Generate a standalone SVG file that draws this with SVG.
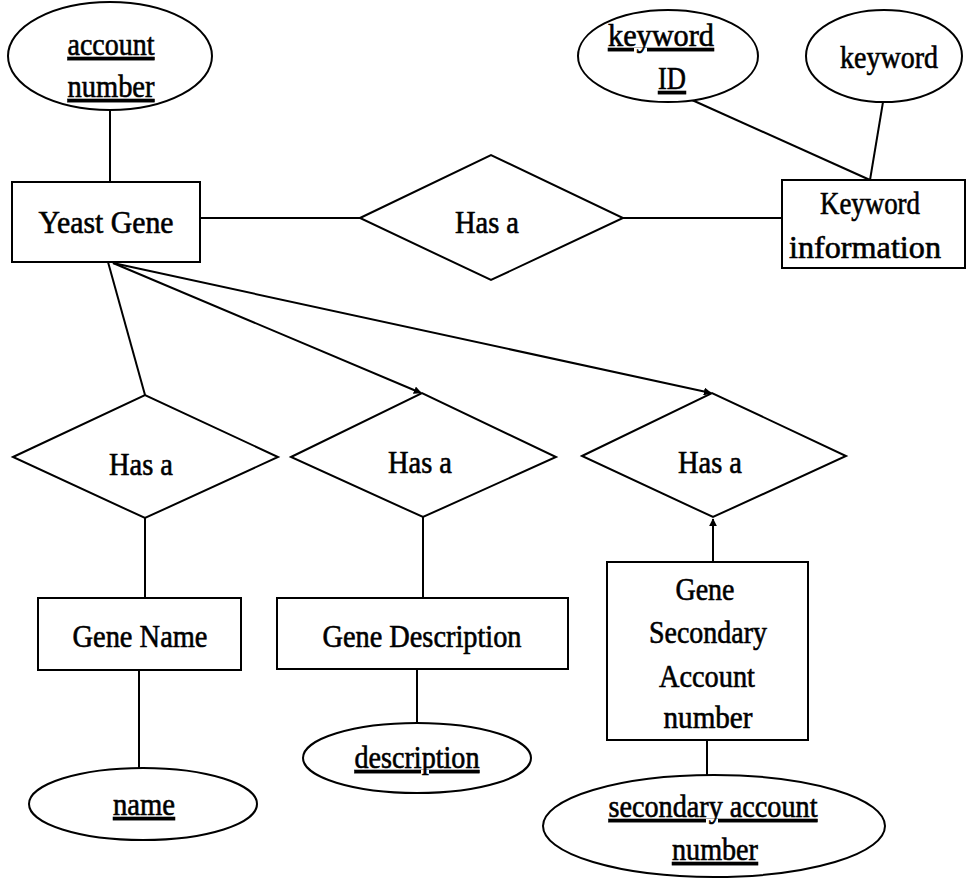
<svg xmlns="http://www.w3.org/2000/svg" width="969" height="879" viewBox="0 0 969 879">
<style>
.shape{fill:#fff;stroke:#000;stroke-width:2}
.ln{fill:none;stroke:#000;stroke-width:2}
text{font-family:"Liberation Serif","Times New Roman",serif;font-size:31px;fill:#000;text-anchor:middle;stroke:#000;stroke-width:0.6}
.u{text-decoration:underline}
</style>
<defs>
<marker id="arr" viewBox="0 0 10 10" refX="9" refY="5" markerWidth="4" markerHeight="4" orient="auto" markerUnits="strokeWidth">
<path d="M0,0 L10,5 L0,10 z" fill="#000"/>
</marker>
</defs>
<rect width="969" height="879" fill="#fff"/>
<g id="connectors">
<line class="ln" x1="110" y1="110" x2="110" y2="182"/>
<line class="ln" x1="200" y1="218" x2="360" y2="218"/>
<line class="ln" x1="623" y1="218" x2="782" y2="218"/>
<line class="ln" x1="692" y1="100" x2="870" y2="180"/>
<line class="ln" x1="883" y1="102" x2="870" y2="180"/>
<line class="ln" x1="108" y1="262" x2="145" y2="395"/>
<line class="ln" x1="113" y1="263" x2="421" y2="393" marker-end="url(#arr)"/>
<line class="ln" x1="113" y1="263" x2="711" y2="393" marker-end="url(#arr)"/>
<line class="ln" x1="145" y1="518" x2="145" y2="598"/>
<line class="ln" x1="139" y1="670" x2="139" y2="768"/>
<line class="ln" x1="423" y1="517" x2="423" y2="598"/>
<line class="ln" x1="417" y1="669" x2="417" y2="723"/>
<line class="ln" x1="713" y1="562" x2="713" y2="519" marker-end="url(#arr)"/>
<line class="ln" x1="707" y1="740" x2="707" y2="775"/>
</g>
<g id="account-number">
<ellipse class="shape" cx="110" cy="56" rx="102" ry="54"/>
<text x="111" y="55" class="u" textLength="87" lengthAdjust="spacingAndGlyphs">account</text>
<text x="111" y="97" class="u" textLength="87" lengthAdjust="spacingAndGlyphs">number</text>
</g>
<g id="yeast-gene">
<rect class="shape" x="12" y="182" width="188" height="80"/>
<text x="106" y="233" textLength="135" lengthAdjust="spacingAndGlyphs">Yeast Gene</text>
</g>
<g id="has-a-top">
<polygon class="shape" points="360,218 491,155 623,218 491,280"/>
<text x="487" y="233" textLength="64" lengthAdjust="spacingAndGlyphs">Has a</text>
</g>
<g id="keyword-id">
<ellipse class="shape" cx="668" cy="56" rx="90" ry="46"/>
<text x="661" y="46" class="u" textLength="106" lengthAdjust="spacingAndGlyphs">keyword</text>
<text x="672" y="89" class="u" textLength="28" lengthAdjust="spacingAndGlyphs">ID</text>
</g>
<g id="keyword">
<ellipse class="shape" cx="884" cy="56" rx="78" ry="46"/>
<text x="889" y="68" textLength="98" lengthAdjust="spacingAndGlyphs">keyword</text>
</g>
<g id="keyword-information">
<rect class="shape" x="782" y="180" width="183" height="88"/>
<text x="870" y="214" textLength="100" lengthAdjust="spacingAndGlyphs">Keyword</text>
<text x="865" y="258" textLength="152" lengthAdjust="spacingAndGlyphs">information</text>
</g>
<g id="has-a-1">
<polygon class="shape" points="13,457 145,395 278,457 145,518"/>
<text x="141" y="475" textLength="64" lengthAdjust="spacingAndGlyphs">Has a</text>
</g>
<g id="has-a-2">
<polygon class="shape" points="291,457 422,393 556,457 423,517"/>
<text x="420" y="473" textLength="64" lengthAdjust="spacingAndGlyphs">Has a</text>
</g>
<g id="has-a-3">
<polygon class="shape" points="582,456 712,393 846,456 713,517"/>
<text x="710" y="473" textLength="64" lengthAdjust="spacingAndGlyphs">Has a</text>
</g>
<g id="gene-name">
<rect class="shape" x="38" y="598" width="203" height="72"/>
<text x="140" y="647" textLength="135" lengthAdjust="spacingAndGlyphs">Gene Name</text>
</g>
<g id="name">
<ellipse class="shape" cx="143" cy="804" rx="114" ry="36"/>
<text x="144" y="815" class="u" textLength="62" lengthAdjust="spacingAndGlyphs">name</text>
</g>
<g id="gene-description">
<rect class="shape" x="277" y="598" width="291" height="71"/>
<text x="422" y="647" textLength="199" lengthAdjust="spacingAndGlyphs">Gene Description</text>
</g>
<g id="description">
<ellipse class="shape" cx="417" cy="758" rx="114" ry="35"/>
<text x="417" y="768" class="u" textLength="125" lengthAdjust="spacingAndGlyphs">description</text>
</g>
<g id="gene-secondary-account-number">
<rect class="shape" x="607" y="562" width="201" height="178"/>
<text x="705" y="600" textLength="59" lengthAdjust="spacingAndGlyphs">Gene</text>
<text x="708" y="643" textLength="118" lengthAdjust="spacingAndGlyphs">Secondary</text>
<text x="707" y="687" textLength="96" lengthAdjust="spacingAndGlyphs">Account</text>
<text x="708" y="728" textLength="89" lengthAdjust="spacingAndGlyphs">number</text>
</g>
<g id="secondary-account-number">
<ellipse class="shape" cx="714" cy="826" rx="171" ry="51"/>
<text x="713" y="817" class="u" textLength="209" lengthAdjust="spacingAndGlyphs">secondary account</text>
<text x="715" y="860" class="u" textLength="86" lengthAdjust="spacingAndGlyphs">number</text>
</g>
</svg>
